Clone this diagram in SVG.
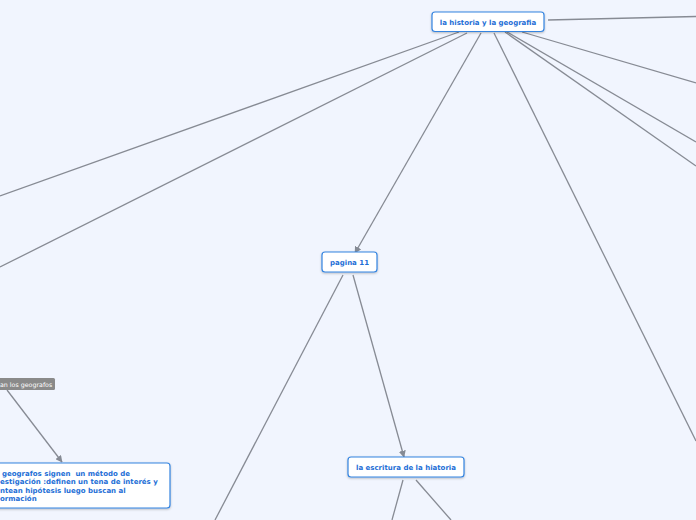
<svg xmlns="http://www.w3.org/2000/svg" width="696" height="520" viewBox="0 0 696 520">
<defs>
<marker id="ah" viewBox="0 0 10 10" refX="9" refY="5" markerWidth="7" markerHeight="7" markerUnits="userSpaceOnUse" orient="auto">
<path d="M0,0 L10,5 L0,10 z" fill="#858a94"/>
</marker>
<filter id="sh" x="-10%" y="-20%" width="120%" height="150%">
<feDropShadow dx="0" dy="1" stdDeviation="0.8" flood-color="#000" flood-opacity="0.25"/>
</filter>
</defs>
<style>
.bg{fill:#f1f5fe}
.ln{fill:none;stroke:#878b94;stroke-width:1.3}
.nd{fill:#fff;stroke:#3484e0;stroke-width:1.2;filter:url(#sh)}
.tx{font-family:"DejaVu Sans",Verdana,sans-serif;font-weight:bold;font-size:7px;fill:#1d6ed6;white-space:pre}
.lb{fill:#8a8a8a}
.lt{font-family:"DejaVu Sans",Verdana,sans-serif;font-size:6.3px;fill:#fff}
</style>
<rect class="bg" x="0" y="0" width="696" height="520"/>
<g id="connectors">
<line class="ln" x1="548" y1="20" x2="696" y2="16.5"/>
<line class="ln" x1="522" y1="32" x2="696" y2="83"/>
<line class="ln" x1="507" y1="32" x2="696" y2="142"/>
<line class="ln" x1="505" y1="32" x2="696" y2="166"/>
<line class="ln" x1="494" y1="33" x2="696" y2="441"/>
<line class="ln" x1="481" y1="33" x2="355" y2="253" marker-end="url(#ah)"/>
<line class="ln" x1="459" y1="32" x2="0" y2="196"/>
<line class="ln" x1="467" y1="33" x2="0" y2="267"/>
<line class="ln" x1="343" y1="275" x2="215" y2="520"/>
<line class="ln" x1="353" y1="275" x2="404" y2="457" marker-end="url(#ah)"/>
<line class="ln" x1="403" y1="480" x2="392" y2="520"/>
<line class="ln" x1="416" y1="480" x2="451" y2="520"/>
<line class="ln" x1="7" y1="390" x2="62" y2="462" marker-end="url(#ah)"/>
</g>
<g id="node-historia">
<rect class="nd" x="432" y="12" width="112" height="19.5" rx="3"/>
<text class="tx" x="488" y="24.5" text-anchor="middle">la historia y la geografia</text>
</g>
<g id="node-pagina">
<rect class="nd" x="322" y="252" width="55" height="20" rx="3"/>
<text class="tx" x="349.5" y="264.5" text-anchor="middle">pagina 11</text>
</g>
<g id="node-escritura">
<rect class="nd" x="348" y="457" width="116" height="20" rx="3"/>
<text class="tx" x="406" y="469.5" text-anchor="middle">la escritura de la hiatoria</text>
</g>
<g id="node-label">
<rect class="lb" x="-4" y="378" width="59" height="12" rx="1.5"/>
<text class="lt" x="0" y="386.5">an los geografos</text>
</g>
<g id="node-metodo">
<rect class="nd" x="-6" y="463" width="176" height="45" rx="3"/>
<text class="tx" x="2" y="475.5" xml:space="preserve">geografos signen  un método de</text>
<text class="tx" x="0" y="484">estigación :definen un tena de interés y</text>
<text class="tx" x="0" y="492.5">ntean hipótesis luego buscan al</text>
<text class="tx" x="0" y="501">ormación</text>
</g>
</svg>
